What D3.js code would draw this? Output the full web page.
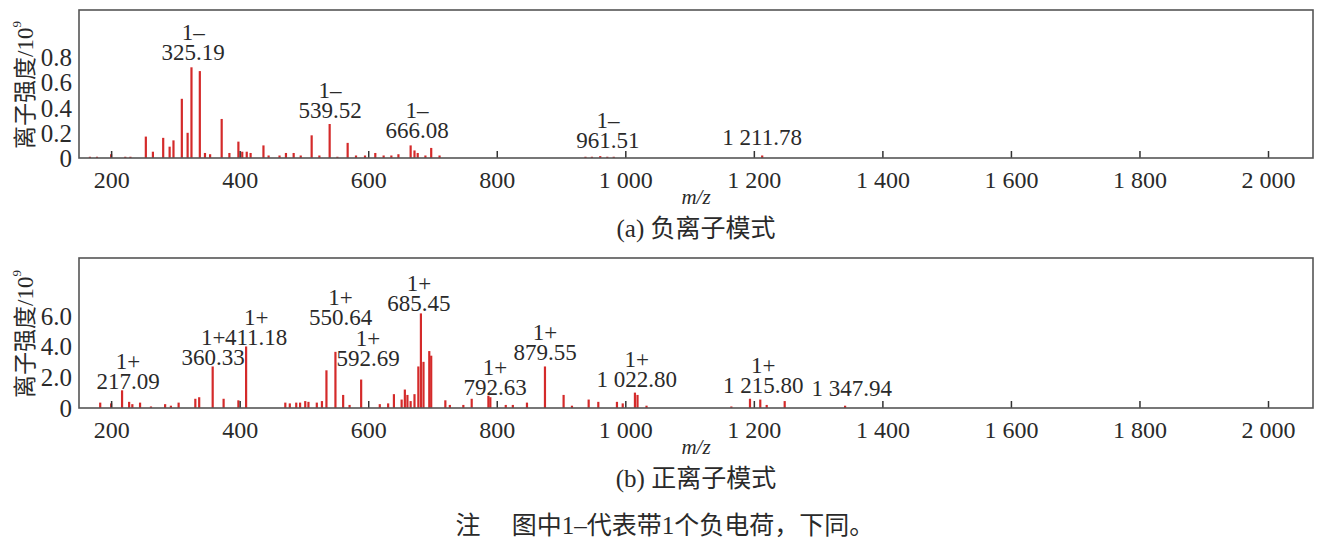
<!DOCTYPE html>
<html><head><meta charset="utf-8">
<script src="https://cdn.jsdelivr.net/npm/d3@7"></script>
<style>
body{margin:0;background:#fff;}
svg text{font-family:"Liberation Serif","Times New Roman","DejaVu Serif","Noto Sans CJK SC",serif !important;fill:#2a2a2a;}
</style></head>
<body><svg id="c" width="1323" height="546"></svg>
<script>
// ---- data ----
const xTicks = [200,400,600,800,1000,1200,1400,1600,1800,2000];
const negYTicks = [0,0.2,0.4,0.6,0.8];
const posYTicks = [0,2,4,6];
const negMz  = [167,178,200,222,230,254,265,281,291,297,310,319,325,338,346,354,372,384,398,404,411,417,437,445,462,472,484,495,512,524,540,552,568,581,595,611,624,636,647,666,672,677,689,698,711,938,948,961,972,982,1213];
const negInt = [0.01,0.01,0.03,0.01,0.01,0.17,0.05,0.16,0.09,0.14,0.47,0.2,0.72,0.69,0.04,0.03,0.31,0.04,0.13,0.05,0.05,0.04,0.1,0.02,0.02,0.04,0.04,0.02,0.18,0.02,0.27,0.01,0.12,0.02,0.02,0.04,0.02,0.02,0.03,0.1,0.06,0.04,0.02,0.08,0.02,0.01,0.01,0.015,0.01,0.01,0.02];
const posMz  = [183,200,217,228,233,245,262,284,293,305,331,337,358,375,398,410,471,478,488,494,502,507,520,528,535,549,561,571,589,618,631,640,652,657,661,666,672,678,682,686,695,698,720,727,748,761,787,790,814,825,847,875,904,917,943,958,987,996,1015,1019,1033,1165,1194,1210,1220,1248,1342];
const posInt = [0.35,0.3,1.15,0.4,0.25,0.35,0.1,0.25,0.15,0.35,0.6,0.7,2.7,0.6,0.5,4.0,0.35,0.3,0.35,0.35,0.45,0.4,0.35,0.45,2.45,3.65,0.85,0.2,1.85,0.25,0.3,0.9,0.55,1.2,0.85,0.45,0.9,2.7,6.15,3.0,3.7,3.4,0.5,0.2,0.2,0.6,0.8,0.7,0.2,0.2,0.35,2.7,0.85,0.15,0.55,0.4,0.4,0.3,1.0,0.85,0.15,0.1,0.6,0.55,0.2,0.45,0.15];
// annotations: value text, charge text, label centre m/z, label centre intensity
const negLabels = ["325.19","539.52","666.08","961.51","1 211.78"];
const negCharge = ["1–","1–","1–","1–",""];
const negLabMz  = [327.6,540.7,676,973,1212.8];
const negLabInt = [0.84,0.38,0.22,0.143,0.167];
const posLabels = ["217.09","360.33","411.18","550.64","592.69","685.45","792.63","879.55","1 022.80","1 215.80","1 347.94"];
const posCharge = ["1+","1+","1+","1+","1+","1+","1+","1+","1+","1+",""];
const posLabMz  = [226.4,358.7,425.6,557,599.8,679,797.4,875.2,1017.8,1214.8,1352.3];
const posLabInt = [1.77,3.31,4.61,5.93,3.25,6.82,1.38,3.66,1.86,1.49,1.28];
const yTitle = "离子强度/10";
const captions = ["(a) 负离子模式","(b) 正离子模式"];
const note = "注　 图中1–代表带1个负电荷，下同。";

const svg = d3.select("#c");
const L = 79, R = 1313;
const x = d3.scaleLinear().domain([150,2070]).range([L,R]);
const fmtX = v => d3.format(",")(v).replace(",", " ");

function panel(top, bottom, yMax, yTicks, yFmt, mz, inten, labs, chg, lmz, lint, caption){
  const y = d3.scaleLinear().domain([0,yMax]).range([bottom,top]);
  const g = svg.append("g");
  // peaks
  g.selectAll("line.pk").data(mz.map((m,i)=>[m,inten[i]])).join("line")
    .attr("x1",d=>x(d[0])).attr("x2",d=>x(d[0]))
    .attr("y1",y(0)).attr("y2",d=>y(d[1]))
    .attr("stroke","#d42a2a").attr("stroke-width",2.2);
  // x axis
  const xa = g.append("g").attr("transform",`translate(0,${bottom})`)
    .call(d3.axisBottom(x).tickValues(xTicks).tickFormat(fmtX).tickSizeInner(-7).tickSizeOuter(0).tickPadding(13));
  xa.attr("font-family",null);
  xa.select(".domain").remove();
  xa.selectAll(".tick line").attr("stroke","#333").attr("stroke-width",1.5);
  xa.selectAll("text").attr("font-size",24).attr("fill","#2a2a2a").attr("dy","0.71em");
  // y axis
  const ya = g.append("g").attr("transform",`translate(${L},0)`)
    .call(d3.axisLeft(y).tickValues(yTicks).tickFormat(yFmt).tickSize(0).tickPadding(7));
  ya.attr("font-family",null);
  ya.select(".domain").remove();
  ya.selectAll("text").attr("font-size",25).attr("fill","#2a2a2a").attr("dy","0.34em");
  // frame
  g.append("rect").attr("x",L).attr("y",top).attr("width",R-L).attr("height",bottom-top)
    .attr("fill","none").attr("stroke","#555").attr("stroke-width",1.6);
  // y title
  const t = g.append("text").attr("transform",`translate(25,${(top+bottom)/2+1}) rotate(-90)`)
    .attr("text-anchor","middle").attr("dominant-baseline","central").attr("font-size",23).attr("fill","#444");
  t.append("tspan").text(yTitle);
  t.append("tspan").attr("font-size",13).attr("dy",-9).text("9");
  // annotations
  labs.forEach((s,i)=>{
    const cx = x(lmz[i]), cy = y(lint[i]);
    g.append("text").attr("x",cx).attr("y",cy).attr("dy","0.34em").attr("text-anchor","middle")
      .attr("font-size",23).text(s);
    if(chg[i]) g.append("text").attr("x",cx).attr("y",cy-20).attr("dy","0.34em").attr("text-anchor","middle")
      .attr("font-size",23).text(chg[i]);
  });
  // m/z and caption
  g.append("text").attr("x",(L+R)/2).attr("y",bottom+39).attr("dy","0.34em").attr("text-anchor","middle")
    .attr("font-size",21).attr("font-style","italic").text("m/z");
  g.append("text").attr("x",(L+R)/2).attr("y",bottom+70).attr("dy","0.34em").attr("text-anchor","middle")
    .attr("font-size",25).text(caption);
}

panel(10,158,1.175,negYTicks,v=>v===0?"0":d3.format(".1f")(v),negMz,negInt,negLabels,negCharge,negLabMz,negLabInt,captions[0]);
panel(258,408,9.75,posYTicks,v=>v===0?"0":d3.format(".1f")(v),posMz,posInt,posLabels,posCharge,posLabMz,posLabInt,captions[1]);

svg.append("text").attr("x",665).attr("y",525).attr("dy","0.34em").attr("text-anchor","middle")
  .attr("font-size",25).text(note);
</script></body></html>
